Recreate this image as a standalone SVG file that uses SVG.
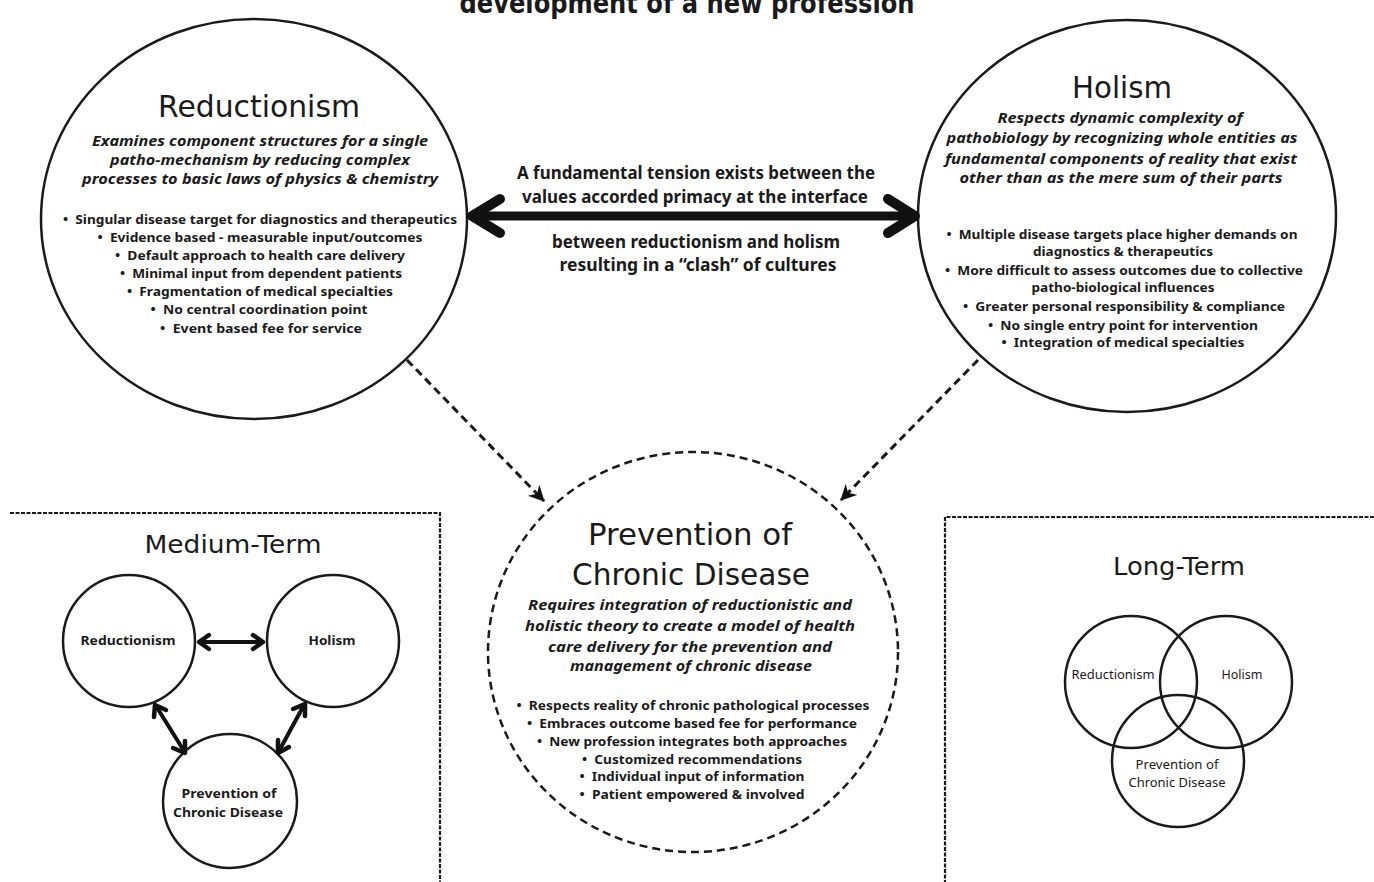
<svg xmlns="http://www.w3.org/2000/svg" width="1374" height="882" viewBox="0 0 1374 882">
<defs>
<style>
.bg{fill:#fff}
.ttl{font-family:"DejaVu Sans","Noto Sans",sans-serif;fill:#1a1a1a;text-anchor:middle}
.it{font-family:"Noto Sans","Liberation Sans",sans-serif;font-style:italic;font-weight:bold;fill:#1a1a1a;text-anchor:middle}
.bl{font-family:"Noto Sans","Liberation Sans",sans-serif;font-weight:bold;fill:#1a1a1a;text-anchor:middle}
.sm{font-family:"Noto Sans","Liberation Sans",sans-serif;fill:#1a1a1a;text-anchor:middle}
.ring{fill:none;stroke:#1a1a1a;stroke-width:2.5}
.dring{fill:none;stroke:#1a1a1a;stroke-width:2.5;stroke-dasharray:8 5}
.dline{fill:none;stroke:#1a1a1a;stroke-width:3;stroke-dasharray:8 5}
.box{fill:none;stroke:#1a1a1a;stroke-width:2.2;stroke-dasharray:4 1.5}
.thick{fill:none;stroke:#111;stroke-linecap:round;stroke-linejoin:round}
</style>
<marker id="barb" markerUnits="userSpaceOnUse" markerWidth="18" markerHeight="18" refX="15" refY="8" orient="auto">
<path d="M0,0 L16,8 L0,16 L5,8 Z" fill="#111"/>
</marker>
</defs>
<rect class="bg" x="0" y="0" width="1374" height="882"/>

<text class="ttl" x="687" y="13" font-size="28" font-weight="bold" textLength="455" lengthAdjust="spacingAndGlyphs">development of a new profession</text>

<g id="reductionism">
<ellipse class="ring" cx="254" cy="219" rx="213" ry="200"/>
<text class="ttl" x="259" y="117" font-size="30" textLength="202" lengthAdjust="spacingAndGlyphs">Reductionism</text>
<text class="it" x="260" y="146" font-size="15" textLength="336" lengthAdjust="spacingAndGlyphs">Examines component structures for a single</text>
<text class="it" x="260" y="165" font-size="15" textLength="300" lengthAdjust="spacingAndGlyphs">patho-mechanism by reducing complex</text>
<text class="it" x="260" y="184" font-size="15" textLength="356" lengthAdjust="spacingAndGlyphs">processes to basic laws of physics &amp; chemistry</text>
<text class="bl" x="260" y="224" font-size="13" textLength="394" lengthAdjust="spacingAndGlyphs">•&#160;&#160;Singular disease target for diagnostics and therapeutics</text>
<text class="bl" x="260" y="242" font-size="13" textLength="325" lengthAdjust="spacingAndGlyphs">•&#160;&#160;Evidence based - measurable input/outcomes</text>
<text class="bl" x="260" y="260" font-size="13" textLength="290" lengthAdjust="spacingAndGlyphs">•&#160;&#160;Default approach to health care delivery</text>
<text class="bl" x="261" y="278" font-size="13" textLength="282" lengthAdjust="spacingAndGlyphs">•&#160;&#160;Minimal input from dependent patients</text>
<text class="bl" x="260" y="296" font-size="13" textLength="266" lengthAdjust="spacingAndGlyphs">•&#160;&#160;Fragmentation of medical specialties</text>
<text class="bl" x="259" y="314" font-size="13" textLength="217" lengthAdjust="spacingAndGlyphs">•&#160;&#160;No central coordination point</text>
<text class="bl" x="261" y="333" font-size="13" textLength="202" lengthAdjust="spacingAndGlyphs">•&#160;&#160;Event based fee for service</text>
</g>

<g id="holism">
<ellipse class="ring" cx="1127" cy="216" rx="209" ry="196"/>
<text class="ttl" x="1122" y="98" font-size="31" textLength="100" lengthAdjust="spacingAndGlyphs">Holism</text>
<text class="it" x="1120" y="123" font-size="15" textLength="245" lengthAdjust="spacingAndGlyphs">Respects dynamic complexity of</text>
<text class="it" x="1122" y="143" font-size="15" textLength="351" lengthAdjust="spacingAndGlyphs">pathobiology by recognizing whole entities as</text>
<text class="it" x="1121" y="164" font-size="15" textLength="352" lengthAdjust="spacingAndGlyphs">fundamental components of reality that exist</text>
<text class="it" x="1121" y="183" font-size="15" textLength="323" lengthAdjust="spacingAndGlyphs">other than as the mere sum of their parts</text>
<text class="bl" x="1122" y="239" font-size="13" textLength="351" lengthAdjust="spacingAndGlyphs">•&#160;&#160;Multiple disease targets place higher demands on</text>
<text class="bl" x="1123" y="256" font-size="13" textLength="180" lengthAdjust="spacingAndGlyphs">diagnostics &amp; therapeutics</text>
<text class="bl" x="1124" y="275" font-size="13" textLength="358" lengthAdjust="spacingAndGlyphs">•&#160;&#160;More difficult to assess outcomes due to collective</text>
<text class="bl" x="1123" y="292" font-size="13" textLength="183" lengthAdjust="spacingAndGlyphs">patho-biological influences</text>
<text class="bl" x="1124" y="311" font-size="13" textLength="322" lengthAdjust="spacingAndGlyphs">•&#160;&#160;Greater personal responsibility &amp; compliance</text>
<text class="bl" x="1123" y="330" font-size="13" textLength="270" lengthAdjust="spacingAndGlyphs">•&#160;&#160;No single entry point for intervention</text>
<text class="bl" x="1123" y="347" font-size="13" textLength="243" lengthAdjust="spacingAndGlyphs">•&#160;&#160;Integration of medical specialties</text>
</g>

<g id="tension-label">
<text class="bl" x="696" y="179" font-size="17" textLength="358" lengthAdjust="spacingAndGlyphs">A fundamental tension exists between the</text>
<text class="bl" x="695" y="203" font-size="17" textLength="346" lengthAdjust="spacingAndGlyphs">values accorded primacy at the interface</text>
<text class="bl" x="696" y="248" font-size="17" textLength="288" lengthAdjust="spacingAndGlyphs">between reductionism and holism</text>
<text class="bl" x="698" y="271" font-size="17" textLength="277" lengthAdjust="spacingAndGlyphs">resulting in a “clash” of cultures</text>
</g>

<g id="prevention">
<ellipse class="dring" cx="693" cy="652" rx="205" ry="200"/>
<text class="ttl" x="690" y="545" font-size="30" textLength="204" lengthAdjust="spacingAndGlyphs">Prevention of</text>
<text class="ttl" x="691" y="585" font-size="30" textLength="238" lengthAdjust="spacingAndGlyphs">Chronic Disease</text>
<text class="it" x="690" y="610" font-size="15" textLength="324" lengthAdjust="spacingAndGlyphs">Requires integration of reductionistic and</text>
<text class="it" x="690" y="631" font-size="15" textLength="330" lengthAdjust="spacingAndGlyphs">holistic theory to create a model of health</text>
<text class="it" x="690" y="652" font-size="15" textLength="284" lengthAdjust="spacingAndGlyphs">care delivery for the prevention and</text>
<text class="it" x="691" y="671" font-size="15" textLength="242" lengthAdjust="spacingAndGlyphs">management of chronic disease</text>
<text class="bl" x="693" y="710" font-size="13" textLength="353" lengthAdjust="spacingAndGlyphs">•&#160;&#160;Respects reality of chronic pathological processes</text>
<text class="bl" x="692" y="728" font-size="13" textLength="330" lengthAdjust="spacingAndGlyphs">•&#160;&#160;Embraces outcome based fee for performance</text>
<text class="bl" x="692" y="746" font-size="13" textLength="310" lengthAdjust="spacingAndGlyphs">•&#160;&#160;New profession integrates both approaches</text>
<text class="bl" x="692" y="764" font-size="13" textLength="220" lengthAdjust="spacingAndGlyphs">•&#160;&#160;Customized recommendations</text>
<text class="bl" x="692" y="781" font-size="13" textLength="225" lengthAdjust="spacingAndGlyphs">•&#160;&#160;Individual input of information</text>
<text class="bl" x="692" y="799" font-size="13" textLength="225" lengthAdjust="spacingAndGlyphs">•&#160;&#160;Patient empowered &amp; involved</text>
</g>

<g id="medium-term">
<path class="box" d="M10,513 H440 V882"/>
<text class="ttl" x="233" y="553" font-size="24" textLength="177" lengthAdjust="spacingAndGlyphs">Medium-Term</text>
<circle class="ring" cx="129" cy="641" r="66"/>
<circle class="ring" cx="333" cy="641" r="66"/>
<circle class="ring" cx="230" cy="801" r="67"/>
<text class="bl" x="128" y="645" font-size="13" textLength="95" lengthAdjust="spacingAndGlyphs">Reductionism</text>
<text class="bl" x="332" y="645" font-size="13" textLength="47" lengthAdjust="spacingAndGlyphs">Holism</text>
<text class="bl" x="229" y="798" font-size="13" textLength="95" lengthAdjust="spacingAndGlyphs">Prevention of</text>
<text class="bl" x="228" y="817" font-size="13" textLength="110" lengthAdjust="spacingAndGlyphs">Chronic Disease</text>
</g>

<g id="long-term">
<path class="box" d="M1374,517 H945 V882"/>
<text class="ttl" x="1179" y="575" font-size="24" textLength="132" lengthAdjust="spacingAndGlyphs">Long-Term</text>
<circle class="ring" cx="1131" cy="682" r="66"/>
<circle class="ring" cx="1226" cy="682" r="66"/>
<circle class="ring" cx="1178" cy="761" r="66"/>
<text class="sm" x="1113" y="679" font-size="12" textLength="83" lengthAdjust="spacingAndGlyphs">Reductionism</text>
<text class="sm" x="1242" y="679" font-size="12" textLength="41" lengthAdjust="spacingAndGlyphs">Holism</text>
<text class="sm" x="1177" y="769" font-size="12" textLength="83" lengthAdjust="spacingAndGlyphs">Prevention of</text>
<text class="sm" x="1177" y="787" font-size="12" textLength="97" lengthAdjust="spacingAndGlyphs">Chronic Disease</text>
</g>

<g id="connectors">
<line class="thick" x1="478" y1="216" x2="910" y2="216" stroke-width="9"/>
<polyline class="thick" points="500,199 472,216 500,233" stroke-width="10"/>
<polyline class="thick" points="888,199 915,216 888,233" stroke-width="10"/>
<line class="dline" x1="407" y1="360" x2="544" y2="501" marker-end="url(#barb)"/>
<line class="dline" x1="978" y1="360" x2="841" y2="500" marker-end="url(#barb)"/>
<line class="thick" x1="200" y1="642" x2="262" y2="642" stroke-width="4"/>
<polyline class="thick" points="209,635 199,642 209,649" stroke-width="4.5"/>
<polyline class="thick" points="253,635 263,642 253,649" stroke-width="4.5"/>
<line class="thick" x1="156" y1="706" x2="184" y2="751" stroke-width="4"/>
<polyline class="thick" points="154,717 155,705 166,710" stroke-width="4.5"/>
<polyline class="thick" points="173,748 185,753 185,741" stroke-width="4.5"/>
<line class="thick" x1="304" y1="705" x2="279" y2="751" stroke-width="4"/>
<polyline class="thick" points="293,709 305,704 305,716" stroke-width="4.5"/>
<polyline class="thick" points="278,740 278,753 289,747" stroke-width="4.5"/>
</g>
</svg>
